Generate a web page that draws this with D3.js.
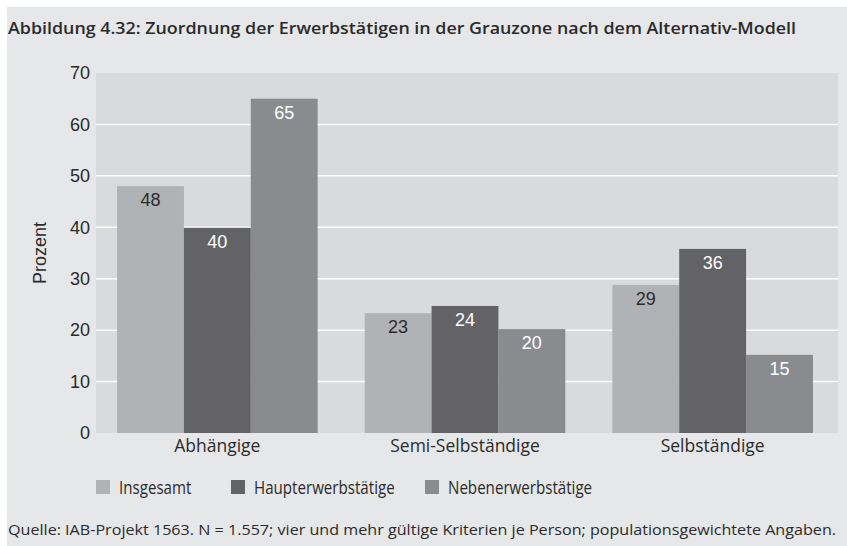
<!DOCTYPE html>
<html>
<head>
<meta charset="utf-8">
<script src="https://cdn.jsdelivr.net/npm/d3@7"></script>
<style>
  body { margin: 0; background: #fff; }
  svg { display: block; }
</style>
</head>
<body>
<svg width="847" height="546"></svg>
<script>
const CATEGORIES = ["Abhängige", "Semi-Selbständige", "Selbständige"];
const SERIES = ["Insgesamt", "Haupterwerbstätige", "Nebenerwerbstätige"];
const INSGESAMT = [48, 23.3, 28.8];
const HAUPTERWERB = [39.9, 24.7, 35.8];
const NEBENERWERB = [65, 20.2, 15.2];
const LABELS = [[48, 40, 65], [23, 24, 20], [29, 36, 15]];
const Y_TICKS = [0, 10, 20, 30, 40, 50, 60, 70];

const TITLE = "Abbildung 4.32: Zuordnung der Erwerbstätigen in der Grauzone nach dem Alternativ-Modell";
const SOURCE = "Quelle: IAB-Projekt 1563. N = 1.557; vier und mehr gültige Kriterien je Person; populationsgewichtete Angaben.";

const colors = ["#b1b2b5", "#636365", "#8a8b8e"];
const labelColors = ["#2b2b2b", "#ffffff", "#ffffff"];
const condensed = "'Open Sans', 'Noto Sans', sans-serif";
const helv = "'Liberation Sans', Arial, sans-serif";

// squeeze text horizontally to mimic the narrow font of the original
function condense(sel, k) {
    sel.each(function () {
        const w = this.getComputedTextLength();
        d3.select(this)
            .attr('textLength', w * k)
            .attr('lengthAdjust', 'spacingAndGlyphs');
    });
}

const rows = CATEGORIES.map((c, i) => ({
    category: c,
    values: [INSGESAMT[i], HAUPTERWERB[i], NEBENERWERB[i]],
    labels: LABELS[i]
}));

const svg = d3.select('svg');

// outer gray box
svg.append('rect')
    .attr('x', 7).attr('y', 7)
    .attr('width', 840).attr('height', 539)
    .attr('fill', '#e6e7e8');

const plot = { left: 96, right: 838, top: 73, bottom: 433 };

svg.append('rect')
    .attr('x', plot.left).attr('y', plot.top)
    .attr('width', plot.right - plot.left).attr('height', plot.bottom - plot.top)
    .attr('fill', '#d9dadc');

const yScale = d3.scaleLinear()
    .domain([0, 70])
    .range([plot.bottom, plot.top]);

const x0 = d3.scaleBand()
    .domain(CATEGORIES)
    .range([plot.left, 834])
    .paddingInner(0.19)
    .paddingOuter(0.085);

const x1 = d3.scaleBand()
    .domain(SERIES)
    .range([0, x0.bandwidth()]);

// grid lines
svg.append('g')
    .selectAll('line')
    .data(Y_TICKS.filter(t => t > 0 && t < 70))
    .enter()
    .append('line')
    .attr('x1', plot.left).attr('x2', plot.right)
    .attr('y1', d => yScale(d)).attr('y2', d => yScale(d))
    .attr('stroke', '#ffffff')
    .attr('stroke-width', 1.5);

// y axis labels
const yAxis = svg.append('g')
    .attr('transform', `translate(${plot.left - 6},0)`)
    .call(d3.axisLeft(yScale).tickValues(Y_TICKS).tickSize(0).tickPadding(0));
yAxis.select('.domain').remove();
yAxis.selectAll('text')
    .attr('font-family', helv)
    .attr('font-size', 18)
    .attr('fill', '#2b2b2b');

svg.append('text')
    .attr('transform', `translate(46,${(plot.top + plot.bottom) / 2}) rotate(-90)`)
    .attr('text-anchor', 'middle')
    .attr('font-family', helv)
    .attr('font-size', 18)
    .attr('fill', '#2b2b2b')
    .text('Prozent');

// bars
const groups = svg.append('g')
    .selectAll('.group')
    .data(rows)
    .enter()
    .append('g')
    .classed('group', true)
    .attr('transform', d => `translate(${x0(d.category)},0)`);

const barData = d => d.values.map((v, i) => ({ series: SERIES[i], value: v, label: d.labels[i], idx: i }));

groups.selectAll('.bar')
    .data(barData)
    .enter()
    .append('rect')
    .classed('bar', true)
    .attr('x', d => x1(d.series))
    .attr('y', d => yScale(d.value))
    .attr('width', x1.bandwidth())
    .attr('height', d => plot.bottom - yScale(d.value))
    .attr('fill', d => colors[d.idx]);

groups.selectAll('.label')
    .data(barData)
    .enter()
    .append('text')
    .attr('x', d => x1(d.series) + x1.bandwidth() / 2)
    .attr('y', d => yScale(d.value) + 20)
    .attr('text-anchor', 'middle')
    .attr('font-family', helv)
    .attr('font-size', 18)
    .attr('fill', d => labelColors[d.idx])
    .text(d => d.label);

// category labels
const xAxis = svg.append('g')
    .attr('transform', `translate(0,${plot.bottom})`)
    .call(d3.axisBottom(x0).tickSize(0).tickPadding(0));
xAxis.select('.domain').remove();
xAxis.selectAll('text')
    .attr('dy', 0)
    .attr('y', 19)
    .attr('font-family', condensed)
    .attr('font-size', 19)
    .attr('fill', '#2b2b2b')
    .call(condense, 0.92);

// legend
const legendX = [96, 231, 425];
const legend = svg.append('g')
    .selectAll('.legend')
    .data(SERIES)
    .enter()
    .append('g')
    .attr('transform', (d, i) => `translate(${legendX[i]},480)`);
legend.append('rect')
    .attr('width', 14).attr('height', 14)
    .attr('fill', (d, i) => colors[i]);
legend.append('text')
    .attr('x', 23).attr('y', 14)
    .attr('font-family', condensed)
    .attr('font-size', 18)
    .attr('fill', '#2b2b2b')
    .text(d => d)
    .call(condense, 0.84);

// title + source
svg.append('text')
    .attr('x', 8).attr('y', 34)
    .attr('font-family', condensed)
    .attr('font-weight', 600)
    .attr('font-size', 17)
    .attr('fill', '#2b2b2b')
    .attr('textLength', 788)
    .attr('lengthAdjust', 'spacingAndGlyphs')
    .text(TITLE);

svg.append('text')
    .attr('x', 8).attr('y', 535)
    .attr('font-family', condensed)
    .attr('font-size', 15)
    .attr('fill', '#2b2b2b')
    .attr('textLength', 828)
    .attr('lengthAdjust', 'spacingAndGlyphs')
    .text(SOURCE);
</script>
</body>
</html>
